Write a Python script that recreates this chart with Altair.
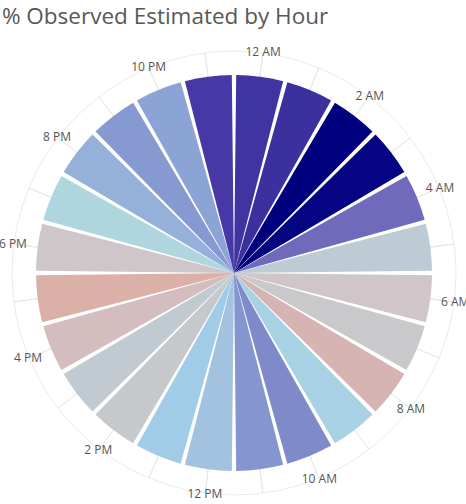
import math

import altair as alt
import pandas as pd

# Hour slots, clockwise from midnight
hours = [
    "12 AM", "1 AM", "2 AM", "3 AM", "4 AM", "5 AM",
    "6 AM", "7 AM", "8 AM", "9 AM", "10 AM", "11 AM",
    "12 PM", "1 PM", "2 PM", "3 PM", "4 PM", "5 PM",
    "6 PM", "7 PM", "8 PM", "9 PM", "10 PM", "11 PM",
]

# Share of observations that were estimated, per hour (%)
pct_estimated = [
    69.0, 69.5, 75.0, 74.5, 63.0, 42.0,
    36.0, 38.5, 33.0, 46.5, 58.0, 56.5,
    51.0, 48.0, 39.0, 40.5, 34.5, 30.5,
    36.5, 45.0, 53.0, 56.0, 54.5, 67.0,
]

# Colour ramp stops (value -> colour)
ramp_values = [30, 33, 36, 39, 42, 45, 48, 51, 54, 58, 63, 67, 69, 75]
ramp_colors = [
    "#dcafa4", "#d6b4b3", "#d0c5c8", "#c7c8cc", "#bdcbd5", "#afd6de",
    "#a1cce8", "#a3c2e0", "#8ea8d6", "#7f8acb", "#6f6abb", "#4838a6",
    "#4034a0", "#00007f",
]

df = pd.DataFrame({"hour": hours, "pct": pct_estimated})
df["slot"] = range(len(hours))
df["start"] = df["slot"]
df["end"] = df["slot"] + 1
df["mid"] = df["slot"] + 0.5

ring_df = pd.DataFrame({"start": [0], "end": [len(hours)]})

CX, CY = 234, 243
theta_scale = alt.Scale(domain=[0, len(hours)], range=[0, 2 * math.pi])
center = dict(x=alt.value(CX), y=alt.value(CY))

ring = alt.Chart(ring_df).mark_arc(
    radius=222, filled=False, stroke="#ebebeb", strokeWidth=1
).encode(
    theta=alt.Theta("start:Q", scale=theta_scale, stack=None),
    theta2="end:Q",
    **center,
)

ticks = alt.Chart(df).mark_arc(
    radius=222, filled=False, stroke="#e8e8e8", strokeWidth=1
).encode(
    theta=alt.Theta("mid:Q", scale=theta_scale, stack=None),
    theta2="mid:Q",
    **center,
)

slices = alt.Chart(df).mark_arc(radius=198, padAngle=0.022).encode(
    theta=alt.Theta("start:Q", scale=theta_scale, stack=None),
    theta2="end:Q",
    color=alt.Color(
        "pct:Q",
        scale=alt.Scale(domain=ramp_values, range=ramp_colors, interpolate="rgb"),
        legend=None,
    ),
    tooltip=["hour:N", "pct:Q"],
    **center,
)

labels = alt.Chart(df).transform_filter("datum.slot % 2 == 0").mark_text(
    radius=223, fontSize=12, font="Open Sans", color="#555555",
    align="center", baseline="middle",
).encode(
    theta=alt.Theta("mid:Q", scale=theta_scale, stack=None),
    text="hour:N",
    **center,
)

chart = alt.layer(ring, ticks, slices, labels).properties(
    width=466,
    height=474,
    padding={"left": 0, "top": 30, "right": 0, "bottom": 0},
    autosize="none",
    title=alt.TitleParams(
        "% Observed Estimated by Hour",
        anchor="start",
        fontSize=22.5,
        font="Open Sans",
        fontWeight="normal",
        color="#585858",
        dx=3,
        offset=2,
    ),
).configure_view(stroke=None)

chart.save("out.html", embed_options={"renderer": "svg", "actions": False})
